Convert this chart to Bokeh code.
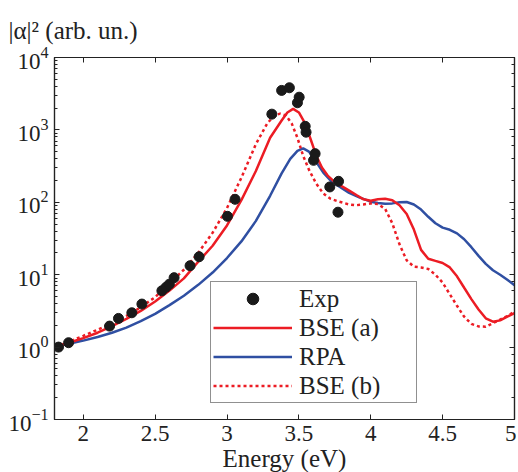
from bokeh.plotting import figure
from bokeh.models import (LinearAxis, LogAxis, LogTicker, FixedTicker, Legend, LegendItem,
                          CustomJSTickFormatter)
from bokeh.embed import file_html
from bokeh.resources import INLINE

# ---------------- data ----------------
exp_energy = [1.828, 1.898, 2.183, 2.245, 2.338, 2.408, 2.547, 2.576, 2.599, 2.632,
              2.743, 2.806, 3.003, 3.056, 3.312, 3.38, 3.434, 3.49, 3.502, 3.544,
              3.55, 3.602, 3.613, 3.715, 3.772, 3.776]
exp_alpha2 = [1.0, 1.15, 1.95, 2.49, 2.98, 3.93, 6.0, 6.7, 7.4, 9.1,
              13.3, 17.7, 64, 110, 1650, 3510, 3820, 2370, 2830, 1120,
              930, 380, 470, 163, 73, 195]

bse_a_energy = [1.80, 1.90, 2.00, 2.10, 2.20, 2.30, 2.40, 2.50, 2.60, 2.70,
                2.80, 2.90, 3.00, 3.10, 3.20, 3.30, 3.38, 3.42, 3.46, 3.50,
                3.54, 3.58, 3.62, 3.66, 3.70, 3.75, 3.80, 3.85, 3.90, 3.95,
                4.00, 4.05, 4.10, 4.15, 4.20, 4.25, 4.30, 4.35, 4.40, 4.45,
                4.50, 4.55, 4.60, 4.65, 4.70, 4.75, 4.80, 4.85, 4.90, 4.95, 5.00]
bse_a = [1.00, 1.15, 1.33, 1.58, 1.95, 2.45, 3.16, 4.27, 6.03, 8.9,
         15.1, 25.1, 47.9, 107, 269, 780, 1350, 1740, 1950, 1740,
         1260, 760, 447, 302, 234, 190, 166, 145, 126, 110,
         105, 110, 112, 107, 91, 69, 42, 22, 16.6, 15.5,
         14.5, 12.6, 9.5, 6.6, 4.6, 3.3, 2.5, 2.24, 2.34, 2.63, 2.95]

rpa_energy = [1.80, 1.90, 2.00, 2.10, 2.20, 2.30, 2.40, 2.50, 2.60, 2.70,
              2.80, 2.90, 3.00, 3.10, 3.20, 3.30, 3.38, 3.44, 3.49, 3.53,
              3.57, 3.62, 3.67, 3.72, 3.78, 3.85, 3.92, 4.00, 4.05, 4.10,
              4.15, 4.20, 4.25, 4.30, 4.35, 4.40, 4.45, 4.50, 4.55, 4.60,
              4.65, 4.70, 4.75, 4.80, 4.85, 4.90, 4.95, 5.00]
rpa = [1.00, 1.11, 1.23, 1.38, 1.58, 1.86, 2.29, 2.88, 3.80, 5.13,
       7.24, 10.7, 17.0, 28.8, 55.0, 123, 251, 398, 513, 556,
       501, 363, 257, 200, 166, 135, 117, 102, 97.7, 95.5,
       96.6, 100, 101, 93.3, 79.4, 63.1, 51.3, 44.7, 41.7, 37.2,
       30.9, 24.0, 18.2, 14.1, 11.5, 10.0, 8.51, 7.16]

bse_b_energy = [1.80, 1.90, 2.00, 2.10, 2.20, 2.30, 2.40, 2.50, 2.60, 2.70,
                2.80, 2.90, 3.00, 3.10, 3.20, 3.28, 3.33, 3.37, 3.41, 3.45,
                3.49, 3.53, 3.57, 3.62, 3.67, 3.72, 3.78, 3.85, 3.90, 3.95,
                4.00, 4.05, 4.10, 4.15, 4.20, 4.25, 4.30, 4.35, 4.40, 4.45,
                4.50, 4.55, 4.60, 4.65, 4.70, 4.75, 4.80, 4.85, 4.90, 4.95, 5.00]
bse_b = [1.00, 1.19, 1.43, 1.74, 2.14, 2.69, 3.55, 4.90, 7.59, 11.7,
         20.0, 38.0, 83.2, 219, 631, 1230, 1580, 1680, 1580, 1230,
         776, 437, 282, 182, 132, 112, 102, 93.3, 91.2, 93.3,
         96.6, 94.4, 81.3, 51.3, 26.3, 15.8, 12.9, 12.6, 12.0, 10.0,
         7.76, 5.37, 3.72, 2.63, 2.09, 1.93, 1.91, 2.14, 2.40, 2.69, 3.09]

x_ticks = [2, 2.5, 3, 3.5, 4, 4.5, 5]
x_tick_labels = ["2", "2.5", "3", "3.5", "4", "4.5", "5"]
legend_labels = ["Exp", "BSE (a)", "RPA", "BSE (b)"]
y_title = "|α|² (arb. un.)"
x_title = "Energy (eV)"

# ---------------- style ----------------
FONT = "Liberation Serif"
RED = "#ec1c24"
BLUE = "#2f4fa2"
DOT = "#1a1a1a"
INK = "#222222"

p = figure(frame_width=460, frame_height=362, x_range=(1.8, 5), y_range=(0.1, 1e4),
           y_axis_type="log", output_backend="svg", toolbar_location=None,
           min_border_left=54, min_border_right=2, min_border_top=56,
           min_border_bottom=50)
p.grid.visible = False
p.outline_line_color = INK
p.outline_line_width = 1.2
p.background_fill_color = "white"
p.border_fill_color = "white"

r_rpa = p.line(rpa_energy, rpa, line_color=BLUE, line_width=2.5)
r_a = p.line(bse_a_energy, bse_a, line_color=RED, line_width=2.5)
r_b = p.line(bse_b_energy, bse_b, line_color=RED, line_width=2.5, line_dash="3 3")
r_exp = p.scatter(exp_energy, exp_alpha2, size=10, fill_color=DOT, line_color=DOT)

overrides = {float(v): s for v, s in zip(x_ticks, x_tick_labels)}

def style_axis(ax, labels=True):
    ax.axis_line_color = INK
    ax.axis_line_width = 1.2
    ax.major_tick_line_color = INK
    ax.minor_tick_line_color = INK
    ax.major_tick_in = 5
    ax.major_tick_out = 0
    ax.minor_tick_in = 3
    ax.minor_tick_out = 0
    ax.major_label_text_font = FONT
    ax.major_label_text_color = INK
    ax.major_label_text_font_size = "23px"
    if not labels:
        ax.formatter = CustomJSTickFormatter(code="return ''")
        ax.major_label_standoff = 0

xa = p.xaxis[0]
xa.ticker = FixedTicker(ticks=x_ticks, minor_ticks=[])
xa.major_label_overrides = overrides
style_axis(xa)
xa.major_label_standoff = 6
xa.axis_label = x_title
xa.axis_label_text_font = FONT
xa.axis_label_text_font_size = "25px"
xa.axis_label_text_font_style = "normal"
xa.axis_label_text_color = INK
xa.axis_label_standoff = 1

ya = p.yaxis[0]
style_axis(ya)
ya.major_label_standoff = 6

top = LinearAxis(ticker=FixedTicker(ticks=x_ticks, minor_ticks=[]))
style_axis(top, labels=False)
p.add_layout(top, "above")

right = LogAxis(ticker=LogTicker())
style_axis(right, labels=False)
p.add_layout(right, "right")

p.title.text = y_title
p.title.text_font = FONT
p.title.text_font_size = "25px"
p.title.text_font_style = "normal"
p.title.text_color = INK
p.title.align = "left"
p.title.offset = -46
p.title.standoff = 28

legend = Legend(items=[LegendItem(label=legend_labels[0], renderers=[r_exp]),
                       LegendItem(label=legend_labels[1], renderers=[r_a]),
                       LegendItem(label=legend_labels[2], renderers=[r_rpa]),
                       LegendItem(label=legend_labels[3], renderers=[r_b])],
                location=(156, 16), margin=0, padding=2, spacing=0,
                glyph_width=79, glyph_height=29, label_height=29,
                label_standoff=7, label_width=115,
                label_text_font=FONT, label_text_font_size="25px",
                label_text_color=INK, border_line_color=INK,
                border_line_width=1.2, background_fill_alpha=1.0)
p.add_layout(legend, "center")

open("out.html", "w").write(file_html(p, INLINE))
